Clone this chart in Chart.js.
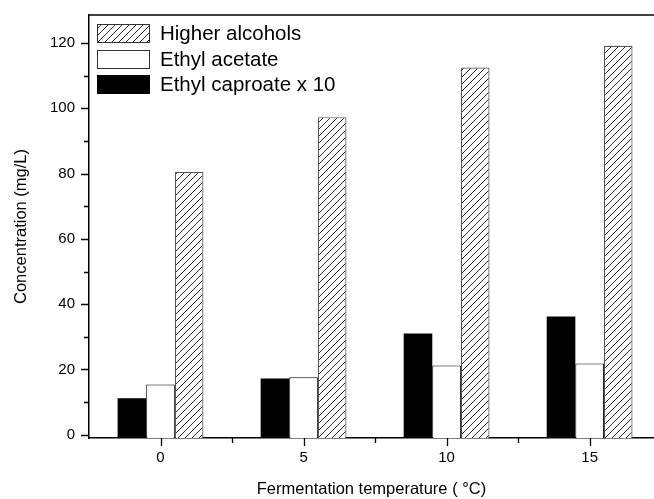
<!DOCTYPE html>
<html>
<head>
<meta charset="utf-8">
<script src="https://cdn.jsdelivr.net/npm/chart.js@4.4.1/dist/chart.umd.min.js"></script>
<style>
  html, body { margin: 0; padding: 0; background: #fff; }
</style>
</head>
<body>
<canvas id="tempChart" width="654" height="499"></canvas>
<script>
const temperatures = [0, 5, 10, 15];
const higherAlcohols = [80.5, 97.3, 112.5, 119.2];
const ethylAcetate = [15.4, 17.6, 21.2, 21.8];
const ethylCaproateX10 = [11.2, 17.2, 31.0, 36.2];
const xMinorTicks = [2.5, 7.5, 12.5];
const yTicks = [0, 20, 40, 60, 80, 100, 120];
const yMinorTicks = [10, 30, 50, 70, 90, 110];

const FONT = '"Liberation Sans", Arial, Helvetica, sans-serif';

function hatchPattern() {
    const p = document.createElement('canvas');
    p.width = 7;
    p.height = 7;
    const g = p.getContext('2d');
    g.fillStyle = '#fff';
    g.fillRect(0, 0, 7, 7);
    g.strokeStyle = '#111';
    g.lineWidth = 0.9;
    g.beginPath();
    g.moveTo(0, 7); g.lineTo(7, 0);
    g.moveTo(-1, 1); g.lineTo(1, -1);
    g.moveTo(6, 8); g.lineTo(8, 6);
    g.stroke();
    return g.createPattern(p, 'repeat');
}

const ctx = document.getElementById('tempChart').getContext('2d');
const hatch = hatchPattern();

function points(values) {
    return temperatures.map((t, i) => ({ x: t, y: values[i] }));
}

// legend drawn inside the plot, plus top frame line and all tick marks
const framePlugin = {
    id: 'framePlugin',
    afterDraw(chart) {
        const c = chart.ctx;
        const a = chart.chartArea;
        const xs = chart.scales.x;
        const ys = chart.scales.y;
        c.save();
        c.strokeStyle = '#000';
        c.lineWidth = 1.5;
        c.beginPath();
        c.moveTo(a.left, a.top);
        c.lineTo(a.right, a.top);
        c.stroke();

        const xTick = (v, len) => {
            const px = Math.round(xs.getPixelForValue(v)) + 0.5;
            c.moveTo(px, a.bottom);
            c.lineTo(px, a.bottom + len);
        };
        const yTick = (v, len) => {
            const py = Math.round(ys.getPixelForValue(v)) + 0.5;
            c.moveTo(a.left, py);
            c.lineTo(a.left - len, py);
        };
        c.lineWidth = 1.3;
        c.strokeStyle = '#000';
        c.beginPath();
        temperatures.forEach(v => xTick(v, 8));
        xMinorTicks.forEach(v => xTick(v, 5));
        yTicks.forEach(v => yTick(v, 8));
        yMinorTicks.forEach(v => yTick(v, 5));
        c.stroke();

        const items = chart.data.datasets.slice().reverse();
        c.font = '20.5px ' + FONT;
        c.textBaseline = 'middle';
        items.forEach((ds, i) => {
            const y = Math.round(a.top + 9 + i * 25.5) + 0.5;
            const x = Math.round(a.left + 8) + 0.5;
            c.fillStyle = ds.backgroundColor;
            c.fillRect(x, y, 52, 18);
            c.strokeStyle = ds.legendBorder;
            c.lineWidth = 1;
            c.strokeRect(x, y, 52, 18);
            c.fillStyle = '#000';
            c.fillText(ds.label, a.left + 71, y + 10);
        });
        c.restore();
    }
};

const yMin = -1;

new Chart(ctx, {
    type: 'bar',
    data: {
        datasets: [{
            label: 'Ethyl caproate x 10',
            data: points(ethylCaproateX10),
            backgroundColor: '#000',
            borderColor: '#000',
            legendBorder: '#000',
            borderWidth: 0,
            base: yMin
        }, {
            label: 'Ethyl acetate',
            data: points(ethylAcetate),
            backgroundColor: '#fff',
            borderColor: '#000',
            legendBorder: '#333',
            borderWidth: 1,
            base: yMin
        }, {
            label: 'Higher alcohols',
            data: points(higherAlcohols),
            backgroundColor: hatch,
            borderColor: '#555',
            legendBorder: '#333',
            borderWidth: 1.2,
            base: yMin
        }]
    },
    options: {
        responsive: false,
        animation: false,
        layout: { padding: { top: 13, right: 0, left: 0, bottom: 0 } },
        datasets: {
            bar: { categoryPercentage: 0.6, barPercentage: 1.0, borderSkipped: 'start' }
        },
        plugins: {
            legend: { display: false },
            tooltip: { enabled: false }
        },
        scales: {
            x: {
                type: 'linear',
                min: -2.5,
                max: 17.25,
                offset: false,
                afterBuildTicks: s => { s.ticks = temperatures.map(v => ({ value: v })); },
                afterFit: s => { s.height = 61; },
                grid: { offset: false, drawOnChartArea: false, tickLength: 8, color: 'rgba(0,0,0,0)' },
                border: { color: '#000', width: 1.5 },
                ticks: { color: '#000', font: { family: FONT, size: 15 }, padding: 3, autoSkip: false, maxRotation: 0 },
                title: {
                    display: true,
                    text: 'Fermentation temperature ( °C)',
                    color: '#000',
                    font: { family: FONT, size: 16.5 },
                    padding: { top: 6, bottom: 0 }
                }
            },
            y: {
                min: yMin,
                max: 128.6,
                afterBuildTicks: s => { s.ticks = yTicks.map(v => ({ value: v })); },
                afterFit: s => { s.width = 89; },
                grid: { offset: false, drawOnChartArea: false, tickLength: 8, color: 'rgba(0,0,0,0)' },
                border: { color: '#000', width: 1.5 },
                ticks: { color: '#000', font: { family: FONT, size: 15 }, padding: 6, autoSkip: false },
                title: {
                    display: true,
                    text: 'Concentration (mg/L)',
                    color: '#000',
                    font: { family: FONT, size: 16.5 },
                    padding: { top: 12, bottom: 0 }
                }
            }
        }
    },
    plugins: [framePlugin]
});
</script>
</body>
</html>
